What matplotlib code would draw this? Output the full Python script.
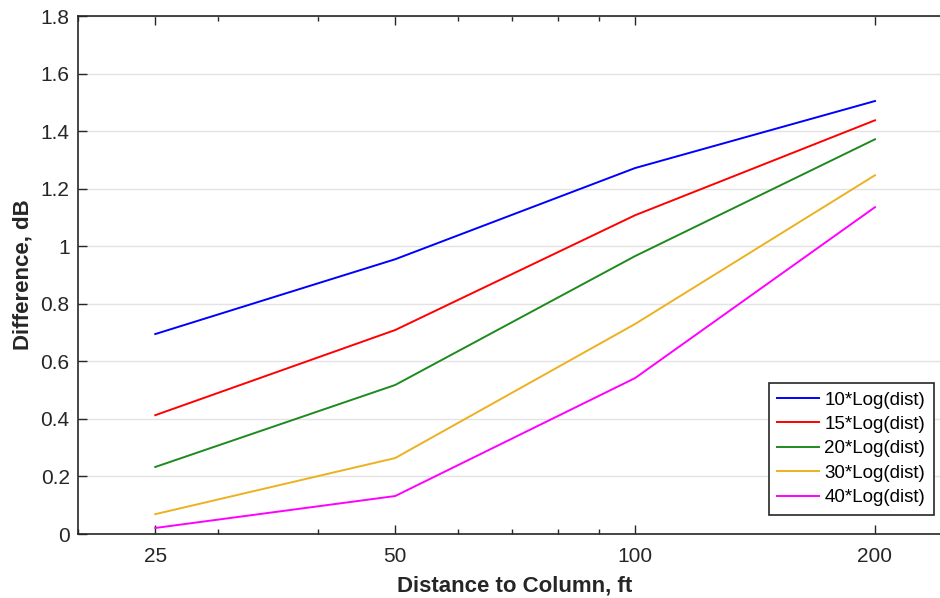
import matplotlib
matplotlib.use("Agg")
import matplotlib.pyplot as plt
from matplotlib.ticker import FixedLocator, FixedFormatter, LogLocator, NullFormatter

distancias = [25, 50, 100, 200]
rotulos = ["10*Log(dist)", "15*Log(dist)", "20*Log(dist)", "30*Log(dist)", "40*Log(dist)"]
dif_10 = [0.695, 0.955, 1.272, 1.505]
dif_15 = [0.413, 0.709, 1.108, 1.438]
dif_20 = [0.233, 0.518, 0.966, 1.372]
dif_30 = [0.069, 0.264, 0.730, 1.247]
dif_40 = [0.021, 0.132, 0.542, 1.136]
cores = ["#0000ff", "#ff0000", "#1e8a1e", "#edb120", "#ff00ff"]

plt.rcParams["font.family"] = ["Liberation Sans", "DejaVu Sans"]

fig = plt.figure(figsize=(9.4, 5.98), dpi=100)
ax = fig.add_axes([0.083, 0.107, 0.930, 0.866])

for serie, nome, cor in zip([dif_10, dif_15, dif_20, dif_30, dif_40], rotulos, cores):
    ax.plot(distancias, serie, color=cor, lw=1.4, label=nome)

ax.set_xscale("log")
ax.set_xlim(20, 250)
ax.set_ylim(0, 1.8)
ax.xaxis.set_major_locator(FixedLocator(distancias))
ax.xaxis.set_major_formatter(FixedFormatter([str(d) for d in distancias]))
ax.xaxis.set_minor_locator(LogLocator(base=10, subs=range(1, 10)))
ax.xaxis.set_minor_formatter(NullFormatter())
ax.set_yticks([0, 0.2, 0.4, 0.6, 0.8, 1.0, 1.2, 1.4, 1.6, 1.8])
ax.set_yticklabels(["0", "0.2", "0.4", "0.6", "0.8", "1", "1.2", "1.4", "1.6", "1.8"])

ax.grid(axis="y", color="#e3e3e3", lw=1)
ax.set_axisbelow(True)
for s in ax.spines.values():
    s.set_color("#262626")
    s.set_linewidth(1.2)
ax.tick_params(which="both", direction="in", top=True, right=True,
               colors="#262626", labelsize=15, labelcolor="#262626")
ax.tick_params(which="major", length=6.5, width=1)
ax.tick_params(which="minor", length=3.5, width=1)
ax.tick_params(axis="x", pad=9)
ax.tick_params(axis="y", pad=6)

ax.set_xlabel("Distance to Column, ft", fontsize=16, fontweight="bold",
              color="#262626", labelpad=7)
ax.set_ylabel("Difference, dB", fontsize=16, fontweight="bold",
              color="#262626", labelpad=5)

leg = ax.legend(loc="upper left", bbox_to_anchor=(769 / 940, 1 - 383 / 598),
                bbox_transform=fig.transFigure, fontsize=13.5, frameon=True,
                fancybox=False, framealpha=1, edgecolor="#262626",
                borderaxespad=0, handlelength=2.2, labelspacing=0.39,
                handletextpad=0.3, borderpad=0.45)
leg.get_frame().set_linewidth(1.2)

fig.savefig("out.png", dpi=100)
